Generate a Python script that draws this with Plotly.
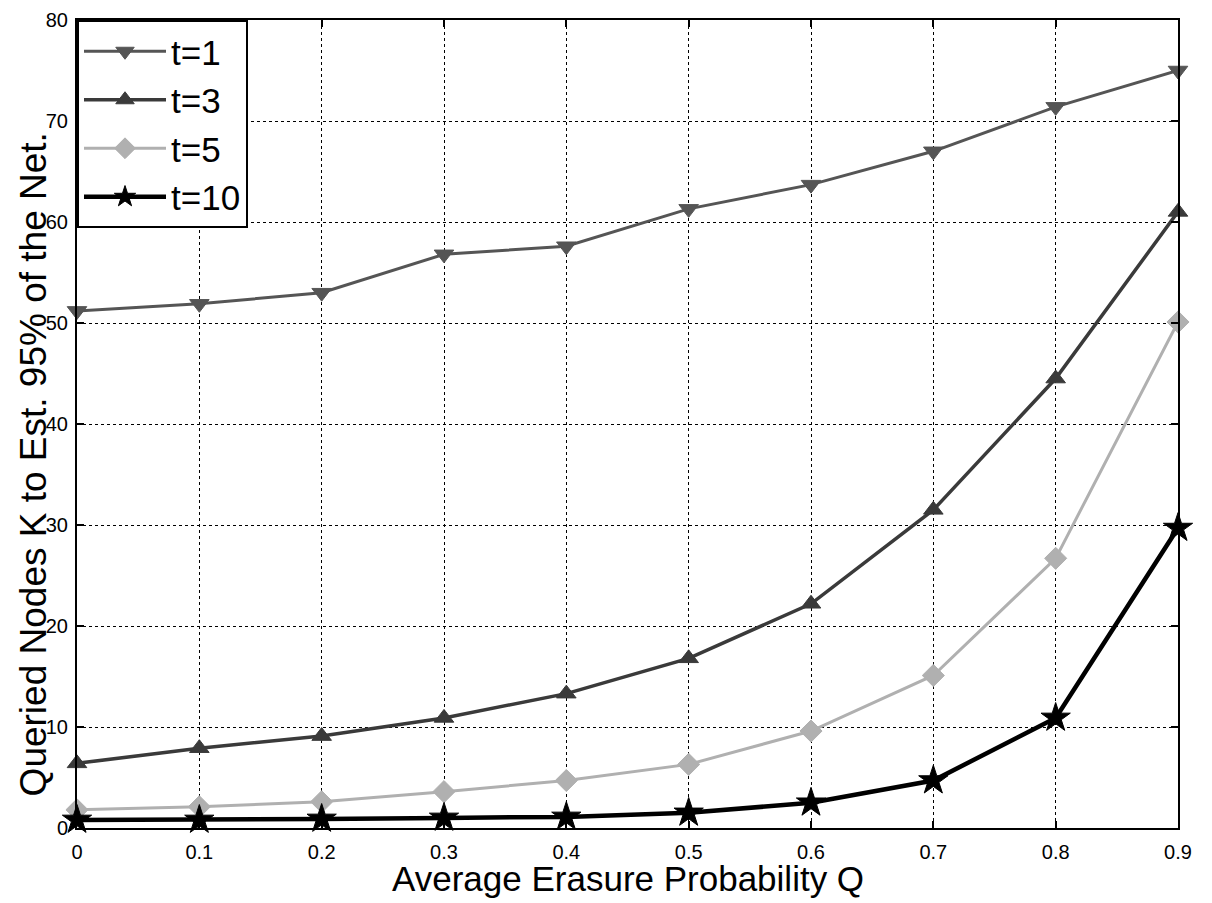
import plotly.graph_objects as go

q_values = [0, 0.1, 0.2, 0.3, 0.4, 0.5, 0.6, 0.7, 0.8, 0.9]
series_names = ["t=1", "t=3", "t=5", "t=10"]
k_t1 = [51.2, 51.9, 53.0, 56.8, 57.6, 61.3, 63.7, 67.0, 71.4, 75.0]
k_t3 = [6.4, 7.9, 9.1, 10.9, 13.3, 16.8, 22.2, 31.5, 44.5, 61.0]
k_t5 = [1.8, 2.1, 2.6, 3.6, 4.7, 6.3, 9.6, 15.1, 26.7, 50.1]
k_t10 = [0.8, 0.8, 0.9, 1.0, 1.1, 1.5, 2.5, 4.7, 10.9, 29.7]
x_ticks = [0, 0.1, 0.2, 0.3, 0.4, 0.5, 0.6, 0.7, 0.8, 0.9]
y_ticks = [0, 10, 20, 30, 40, 50, 60, 70, 80]
x_title = "Average Erasure Probability Q"
y_title = "Queried Nodes K to Est. 95% of the Net."

styles = [
    dict(color="#555555", width=3, symbol="triangle-down", size=17),
    dict(color="#3a3a3a", width=3.5, symbol="triangle-up", size=17),
    dict(color="#b0b0b0", width=3, symbol="diamond", size=17),
    dict(color="#000000", width=4.5, symbol="star", size=22),
]

fig = go.Figure()
for name, vals, st in zip(series_names, [k_t1, k_t3, k_t5, k_t10], styles):
    fig.add_trace(go.Scatter(
        x=q_values, y=vals, name=name, mode="lines+markers",
        line=dict(color=st["color"], width=st["width"]),
        marker=dict(symbol=st["symbol"], size=st["size"], color=st["color"],
                    line=dict(color=st["color"], width=1)),
        cliponaxis=False,
    ))

axis_common = dict(
    showline=True, linecolor="black", linewidth=2, mirror="allticks",
    ticks="inside", ticklen=7, tickcolor="black", tickwidth=1.5,
    showgrid=True, gridcolor="black", gridwidth=1, griddash="dot",
    zeroline=False, ticklabeloverflow="allow", automargin=False,
    tickfont=dict(family="Liberation Sans, Arial", size=20, color="black"),
)

# The page adds an 8px body margin, so the figure is sized to fit the
# 1212x903 window after that offset.
fig.update_layout(
    width=1204, height=895,
    margin=dict(l=69, r=34, t=12, b=75, autoexpand=False),
    paper_bgcolor="white", plot_bgcolor="white",
    font=dict(family="Liberation Sans, Arial", color="black"),
    xaxis=dict(range=[0, 0.9], tickvals=x_ticks,
               ticktext=[f"{v:g}" for v in x_ticks],
               ticklabelstandoff=5, **axis_common),
    yaxis=dict(range=[0, 80], tickvals=y_ticks,
               ticklabelstandoff=3, **axis_common),
    legend=dict(x=0, y=1, xanchor="left", yanchor="top",
                bgcolor="white", bordercolor="black", borderwidth=2,
                font=dict(size=35, color="black"),
                itemwidth=82),
    showlegend=True,
    annotations=[
        dict(text=x_title, xref="paper", yref="paper", x=0.5, y=0,
             xanchor="center", yanchor="top", yshift=-29, showarrow=False,
             font=dict(size=35, color="black")),
        dict(text=y_title, xref="paper", yref="paper", x=0, y=0.45,
             xanchor="center", yanchor="middle", xshift=-44, textangle=-90,
             showarrow=False, font=dict(size=37, color="black")),
    ],
)

fig.write_html("out.html")
